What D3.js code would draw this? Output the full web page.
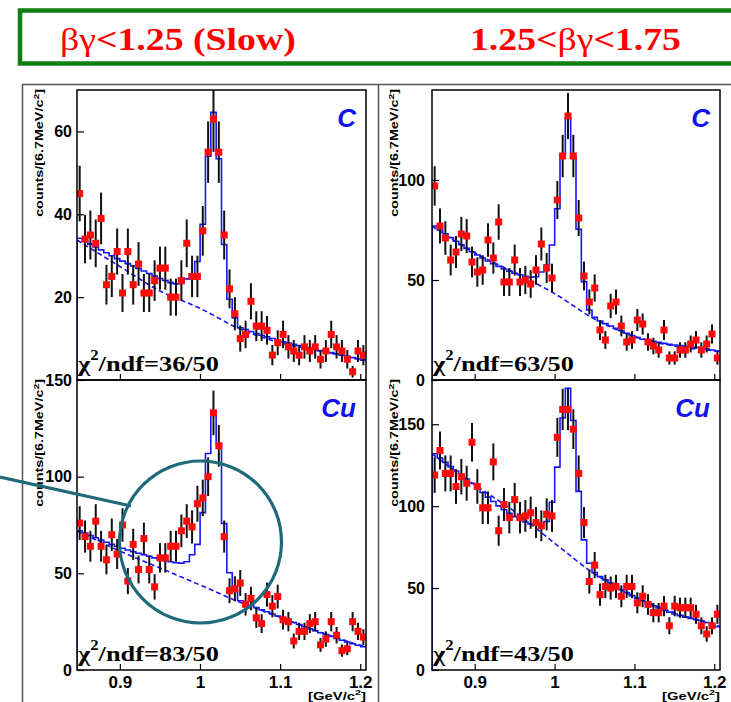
<!DOCTYPE html>
<html>
<head>
<meta charset="utf-8">
<script src="https://cdn.jsdelivr.net/npm/d3@7"></script>
<style>
  body { margin: 0; background: #fff; }
  svg { display: block; }
</style>
</head>
<body>
<svg width="731" height="702"></svg>
<script>
'use strict';

// binning of the K+K- mass histograms [GeV/c^2]
var binStart = 0.8465,
    binWidth = 0.00668,
    xDomain = [0.8465, 1.2072],
    xTicks = [0.9, 1, 1.1, 1.2],
    bgX = [0.8465, 0.9, 0.95, 1.0, 1.05, 1.1, 1.15, 1.2072];

// bg < 1.25, carbon
var slowC = [45, 34, 35, 33, 39, 23, 25, 31, 21, 31, 23, 28, 21, 21, 24, 27, 27, 20, 20, 24,
    33, 25, 25, 36, 55, 63, 55, 35, 22, 16, 10, 11, 19, 13, 13, 12, 6, 9, 11, 8,
    7, 6, 8, 7, 8, 5, 7, 11, 8, 7, 5, 2, 7, 6];
var slowCFit = [34.2, 33.5, 32.8, 32.1, 31.4, 30.7, 30.0, 29.3, 28.7, 28.1, 27.5, 26.9, 26.3, 25.7,
    25.1, 24.5, 24.0, 23.5, 23.2, 23.3, 24.4, 25.6, 28.6, 37.6, 54.0, 64.6, 53.4, 32.7, 19.5,
    15.0, 12.6, 12.2, 11.7, 11.2, 10.8, 10.4, 10.0, 9.6, 9.2, 8.9, 8.6, 8.3, 8.0, 7.7, 7.4,
    7.1, 6.9, 6.6, 6.3, 6.0, 5.7, 5.4, 5.1, 4.8];
var slowCBg = [33.8, 27.4, 21.5, 17.3, 12.3, 9.0, 7.0, 4.8];

// 1.25 < bg < 1.75, carbon
var midC = [97, 77, 71, 60, 64, 73, 72, 59, 54, 55, 70, 61, 79, 49, 49, 60, 49, 50, 48, 55,
    68, 56, 51, 90, 112, 132, 112, 81, 52, 39, 46, 25, 20, 37, 39, 27, 19, 20, 30, 28,
    19, 17, 15, 25, 11, 11, 15, 15, 18, 20, 15, 18, 23, 11];
var midCFit = [77.0, 75.0, 73.1, 71.2, 69.4, 67.6, 65.8, 64.1, 62.5, 61.0, 59.5, 58.1, 56.8, 55.5,
    54.4, 53.4, 52.6, 51.9, 51.4, 51.6, 54.0, 57.5, 67.5, 85.6, 113.0, 131.5, 111.5, 75.4, 49.2,
    35.0, 31.4, 29.5, 28.2, 27.0, 25.8, 24.6, 23.4, 22.2, 21.2, 20.4, 19.8, 19.3, 18.8, 18.3,
    17.9, 17.5, 17.2, 16.9, 16.6, 16.3, 16.0, 15.5, 15.0, 14.5];
var midCBg = [77, 63.6, 53.7, 43.2, 30.5, 21.8, 17.0, 14.4];

// bg < 1.25, copper
var slowCu = [76, 69, 64, 77, 64, 57, 70, 60, 75, 46, 65, 52, 68, 52, 43, 58, 58, 64, 64, 72,
    77, 74, 86, 89, 100, 133, 116, 69, 41, 42, 45, 34, 37, 27, 24, 39, 33, 38, 26, 25,
    15, 20, 20, 24, 25, 13, 16, 25, 18, 10, 11, 25, 20, 17];
var slowCuFit = [72.0, 70.8, 69.6, 68.4, 67.2, 66.1, 65.0, 64.0, 63.0, 62.1, 61.2, 60.4, 59.6, 58.8,
    58.0, 57.3, 56.6, 56.0, 55.5, 55.3, 56.0, 59.6, 65.0, 81.4, 112.0, 134.0, 117.0, 75.8, 50.3,
    40.9, 35.8, 34.5, 33.4, 32.3, 31.2, 30.1, 29.0, 27.9, 26.8, 25.7, 24.6, 23.5, 22.4, 21.3,
    20.3, 19.3, 18.3, 17.3, 16.3, 15.4, 14.5, 13.6, 12.8, 12.0];
var slowCuBg = [72, 61.5, 52.8, 44.0, 35.0, 27.3, 19.6, 11.8];

// 1.25 < bg < 1.75, copper
var midCu = [119, 134, 120, 120, 112, 118, 114, 139, 112, 99, 99, 127, 85, 101, 93, 104, 93, 94, 96, 90,
    88, 95, 94, 142, 159, 159, 147, 120, 90, 54, 64, 46, 51, 50, 51, 45, 51, 51, 41, 45,
    40, 35, 35, 39, 27, 39, 38, 38, 38, 34, 27, 22, 27, 34];
var midCuFit = [132.0, 129.3, 126.7, 124.1, 121.5, 119.0, 116.5, 114.0, 111.1, 108.3, 105.5, 102.8,
    100.2, 97.8, 95.6, 93.6, 91.8, 90.3, 89.2, 89.0, 89.2, 90.6, 102.4, 123.8, 153.8, 172.0, 152.3,
    109.0, 79.4, 65.2, 59.5, 57.0, 55.0, 53.0, 51.0, 49.0, 47.2, 45.4, 43.7, 42.1, 40.6, 39.2,
    37.8, 36.5, 35.3, 34.2, 33.2, 32.3, 31.5, 30.8, 30.1, 29.0, 27.8, 26.5];
var midCuBg = [132, 113, 96.7, 77.4, 58.7, 44.8, 35.0, 26.5];

// header pieces: [thin greek part, bold part] in reading order
var headers = [
    [['\u03b2\u03b3', false], ['<1.25 (Slow)', true]],
    [['1.25<', true], ['\u03b2\u03b3', false], ['<1.75', true]]
];

var svg = d3.select('svg');

var sans = '"Liberation Sans", Arial, sans-serif',
    serif = '"Liberation Serif", "Times New Roman", serif',
    blue = '#1414ff';

// squeeze a text so that it spans the given width
function squeeze(text, width) {
    var w = text.node().getComputedTextLength();
    text.attr('transform', 'scale(' + (width / w) + ',1)');
}

// header box
svg.append('rect')
    .attr('x', 20).attr('y', 10.5)
    .attr('width', 740).attr('height', 53)
    .attr('fill', 'none')
    .attr('stroke', '#0d800d')
    .attr('stroke-width', 4.5);

[[60, 236], [470, 211]].forEach(function (p, i) {
    var t = svg.append('g').attr('transform', 'translate(' + p[0] + ',50)')
        .append('text')
        .attr('font-family', serif)
        .attr('font-size', 31)
        .attr('fill', '#ff0000');
    headers[i].forEach(function (part) {
        t.append('tspan')
            .attr('font-weight', part[1] ? 'bold' : 'normal')
            .text(part[0]);
    });
    squeeze(t, p[1]);
});

// outer frames
svg.append('path')
    .attr('d', 'M22.5,702V84.5H731M378.5,84.5V702')
    .attr('fill', 'none')
    .attr('stroke', '#555')
    .attr('stroke-width', 1.5);

var panels = [
    { id: 'tl', counts: slowC, fit: slowCFit, bg: slowCBg, target: 'C', chi: '36/50',
      x0: 77, x1: 366, y0: 90, y1: 380, ymax: 70, yTicks: [20, 40, 60], labels: false, pad: 5 },
    { id: 'tr', counts: midC, fit: midCFit, bg: midCBg, target: 'C', chi: '63/50',
      x0: 432, x1: 720, y0: 90, y1: 380, ymax: 145, yTicks: [0, 50, 100], labels: false, pad: 7 },
    { id: 'bl', counts: slowCu, fit: slowCuFit, bg: slowCuBg, target: 'Cu', chi: '83/50',
      x0: 77, x1: 366, y0: 380, y1: 670, ymax: 150, yTicks: [0, 50, 100, 150], labels: true, pad: 5 },
    { id: 'br', counts: midCu, fit: midCuFit, bg: midCuBg, target: 'Cu', chi: '43/50',
      x0: 432, x1: 720, y0: 380, y1: 670, ymax: 177, yTicks: [0, 50, 100, 150], labels: true, pad: 7 }
];

panels.forEach(function (p) {
    var x = d3.scaleLinear().domain(xDomain).range([p.x0, p.x1]),
        y = d3.scaleLinear().domain([0, p.ymax]).range([p.y1, p.y0]),
        g = svg.append('g');

    svg.append('clipPath').attr('id', 'clip-' + p.id)
        .append('rect')
        .attr('x', p.x0).attr('y', p.y0)
        .attr('width', p.x1 - p.x0).attr('height', p.y1 - p.y0);

    var plot = g.append('g').attr('clip-path', 'url(#clip-' + p.id + ')');

    // background (dashed)
    plot.append('path')
        .datum(bgX.map(function (v, i) { return [v, p.bg[i]]; }))
        .attr('d', d3.line()
            .x(function (d) { return x(d[0]); })
            .y(function (d) { return y(d[1]); })
            .curve(d3.curveMonotoneX))
        .attr('fill', 'none')
        .attr('stroke', blue)
        .attr('stroke-width', 1.6)
        .attr('stroke-dasharray', '5,3');

    // total fit as a histogram
    var steps = [[binStart, 0]].concat(p.fit.map(function (v, i) {
        return [binStart + i * binWidth, v];
    }));
    steps.push([binStart + p.fit.length * binWidth, p.fit[p.fit.length - 1]]);
    plot.append('path')
        .datum(steps)
        .attr('d', d3.line()
            .x(function (d) { return x(d[0]); })
            .y(function (d) { return y(d[1]); })
            .curve(d3.curveStepAfter))
        .attr('fill', 'none')
        .attr('stroke', blue)
        .attr('stroke-width', 1.6);

    // data with poisson errors
    var pts = plot.selectAll('g.pt').data(p.counts).enter()
        .append('g').attr('class', 'pt')
        .attr('transform', function (d, i) {
            return 'translate(' + x(binStart + (i + 0.5) * binWidth) + ',0)';
        });
    pts.append('line')
        .attr('y1', function (d) { return y(d - Math.sqrt(d)); })
        .attr('y2', function (d) { return y(d + Math.sqrt(d)); })
        .attr('stroke', '#111')
        .attr('stroke-width', 2);
    pts.append('rect')
        .attr('x', -3.5)
        .attr('y', function (d) { return y(d) - 3.5; })
        .attr('width', 7).attr('height', 7)
        .attr('fill', '#ff0a0a');

    // frame
    g.append('rect')
        .attr('x', p.x0).attr('y', p.y0)
        .attr('width', p.x1 - p.x0).attr('height', p.y1 - p.y0)
        .attr('fill', 'none')
        .attr('stroke', '#000')
        .attr('stroke-width', 1.5);

    // axes
    var ax = g.append('g')
        .attr('transform', 'translate(0,' + p.y1 + ')')
        .call(d3.axisBottom(x).tickValues(xTicks).tickSize(-6).tickPadding(6)
            .tickFormat(function (d) { return p.labels ? String(d) : ''; }));
    var ay = g.append('g')
        .attr('transform', 'translate(' + p.x0 + ',0)')
        .call(d3.axisLeft(y).tickValues(p.yTicks).tickSize(-7).tickPadding(p.pad));
    [ax, ay].forEach(function (a) {
        a.select('.domain').remove();
        a.selectAll('line').attr('stroke', '#000').attr('stroke-width', 1.2);
        a.selectAll('text')
            .attr('fill', '#000')
            .attr('font-family', sans)
            .attr('font-weight', 'bold')
            .attr('font-size', a === ax ? 17 : 16);
    });

    // y title
    var yt = g.append('g')
        .attr('transform', 'translate(' + (p.x0 - 34) + ',' + (p.y0 - 1) + ') rotate(-90)')
        .append('text')
        .attr('text-anchor', 'end')
        .attr('font-family', sans)
        .attr('font-weight', 'bold')
        .attr('font-size', 11)
        .attr('fill', '#000');
    yt.append('tspan').text('counts/[6.7MeV/c');
    yt.append('tspan').attr('font-size', 8).attr('dy', -4).text('2');
    yt.append('tspan').attr('dy', 4).text(']');
    squeeze(yt, 128);

    if (p.labels) {
        var xt = g.append('g')
            .attr('transform', 'translate(' + p.x1 + ',700)')
            .append('text')
            .attr('text-anchor', 'end')
            .attr('font-family', sans)
            .attr('font-weight', 'bold')
            .attr('font-size', 11)
            .attr('fill', '#000');
        xt.append('tspan').text('[GeV/c');
        xt.append('tspan').attr('font-size', 8).attr('dy', -5).text('2');
        xt.append('tspan').attr('dy', 5).text(']');
        squeeze(xt, 58);
    }

    // target label
    g.append('text')
        .attr('x', p.x1 - 10)
        .attr('y', p.y0 + 37)
        .attr('text-anchor', 'end')
        .attr('font-family', sans)
        .attr('font-style', 'italic')
        .attr('font-weight', 'bold')
        .attr('font-size', 26)
        .attr('fill', '#1010f0')
        .text(p.target);

    // chi2 text
    var ct = g.append('g')
        .attr('transform', 'translate(' + (p.x0 + 1) + ',' + (p.y1 - 9) + ')')
        .append('text')
        .attr('font-family', serif)
        .attr('font-weight', 'bold')
        .attr('font-size', 22)
        .attr('fill', '#000');
    ct.append('tspan').text('\u03c7');
    ct.append('tspan').attr('font-size', 14).attr('dy', -11).text('2');
    ct.append('tspan').attr('dy', 11).text('/ndf=' + p.chi);
    squeeze(ct, 141);
});

// highlighted region
svg.append('circle')
    .attr('cx', 200.5).attr('cy', 542)
    .attr('r', 81)
    .attr('fill', 'none')
    .attr('stroke', '#1e6a7a')
    .attr('stroke-width', 3.2);
svg.append('line')
    .attr('x1', 0).attr('y1', 477)
    .attr('x2', 131).attr('y2', 506)
    .attr('stroke', '#1e6a7a')
    .attr('stroke-width', 3.2);
</script>
</body>
</html>
